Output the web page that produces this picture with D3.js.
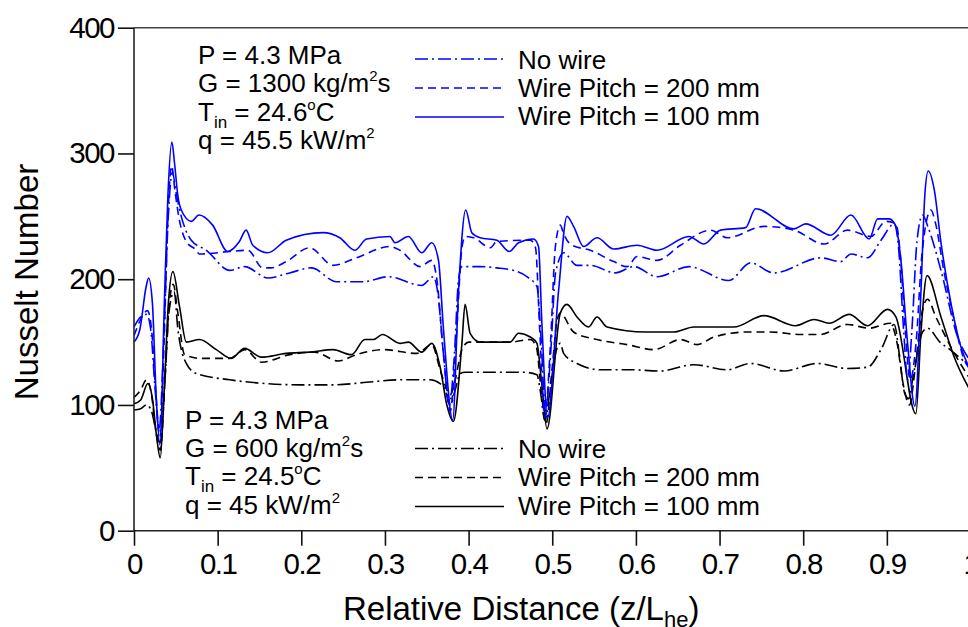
<!DOCTYPE html>
<html>
<head>
<meta charset="utf-8">
<script src="https://cdn.jsdelivr.net/npm/d3@7"></script>
<style>
  body { margin: 0; background: #fff; }
  svg { display: block; font-family: "Liberation Sans", Arial, sans-serif; }
</style>
</head>
<body>
<svg id="svg" width="968" height="627"></svg>
<script>
// values: [z/L, Nusselt number]
var xTicks = [0, 0.1, 0.2, 0.3, 0.4, 0.5, 0.6, 0.7, 0.8, 0.9, 1];
var yTicks = [0, 100, 200, 300, 400];

// G = 1300 (blue)
var blueNoWire = [[0,162],[0.008,170],[0.015,172],[0.020,160],[0.025,115],[0.030,80],[0.036,160],[0.041,250],[0.046,285],[0.050,270],[0.0565,250],[0.0685,231],[0.0865,223],[0.1144,207],[0.1323,210],[0.160,201],[0.186,205],[0.212,209],[0.242,198],[0.274,198],[0.304,202],[0.344,195],[0.358,202],[0.363,190],[0.370,140],[0.377,100],[0.383,140],[0.388,200],[0.392,210],[0.4138,210],[0.4338,209],[0.4537,207],[0.4697,202],[0.4817,194],[0.486,160],[0.492,95],[0.498,140],[0.504,205],[0.5136,221],[0.5296,211],[0.5455,211],[0.5754,205],[0.5974,210],[0.6254,202],[0.6633,210],[0.7112,199],[0.7371,213],[0.765,205],[0.821,217],[0.845,214],[0.857,220],[0.877,217],[0.893,231],[0.909,244],[0.914,225],[0.920,160],[0.925,120],[0.930,160],[0.936,230],[0.9427,251],[0.950,240],[0.9647,207],[0.9846,154],[1.0,135]];
var bluePitch200 = [[0,155],[0.008,168],[0.016,175],[0.021,160],[0.026,110],[0.031,75],[0.036,150],[0.040,240],[0.045,290],[0.049,270],[0.054,248],[0.0625,230],[0.0745,223],[0.078,220],[0.1144,222],[0.136,223],[0.154,209],[0.164,209],[0.182,214],[0.210,225],[0.238,211],[0.266,217],[0.306,226],[0.318,223],[0.342,210],[0.356,215],[0.362,200],[0.370,140],[0.378,95],[0.385,150],[0.392,225],[0.396,234],[0.406,233],[0.426,225],[0.4338,230],[0.474,231],[0.480,225],[0.485,160],[0.491,90],[0.498,150],[0.5036,225],[0.5096,243],[0.5136,236],[0.5236,227],[0.5455,223],[0.5734,214],[0.5894,210],[0.6014,218],[0.6254,215],[0.6533,227],[0.6892,239],[0.7092,233],[0.753,242],[0.789,239],[0.825,228],[0.853,239],[0.881,234],[0.899,246],[0.911,244],[0.916,220],[0.922,160],[0.928,120],[0.935,150],[0.942,220],[0.9527,255],[0.958,245],[0.9686,205],[0.978,175],[0.9925,136],[1.0,128]];
var bluePitch100 = [[0,150],[0.007,160],[0.0145,194],[0.0175,201],[0.022,181],[0.0265,107],[0.031,68],[0.0365,186],[0.0405,266],[0.0453,309],[0.0485,292],[0.0525,266],[0.0565,255],[0.0685,246],[0.0776,251],[0.094,243],[0.112,222],[0.126,230],[0.134,239],[0.142,227],[0.160,221],[0.182,231],[0.226,237],[0.246,233],[0.264,223],[0.278,232],[0.306,234],[0.312,229],[0.328,234],[0.344,221],[0.356,229],[0.364,215],[0.370,160],[0.381,88],[0.388,191],[0.3966,255],[0.4038,237],[0.4138,233],[0.4338,231],[0.4485,222],[0.4597,229],[0.4776,232],[0.4836,226],[0.4876,165],[0.4944,90],[0.5076,191],[0.5176,250],[0.5255,242],[0.5375,226],[0.5535,233],[0.5734,224],[0.6014,227],[0.6254,223],[0.6633,234],[0.6812,228],[0.7012,239],[0.7311,241],[0.7431,256],[0.789,240],[0.803,244],[0.833,235],[0.857,251],[0.879,232],[0.889,248],[0.9028,248],[0.9108,242],[0.9168,215],[0.9248,149],[0.9335,99],[0.9407,189],[0.9455,268],[0.9495,286],[0.9567,271],[0.9647,229],[0.9766,181],[0.9886,146],[1.0,128]];

// G = 600 (black)
var blackNoWire = [[0,96],[0.008,97],[0.015,100],[0.021,95],[0.026,80],[0.031,70],[0.037,120],[0.042,175],[0.048,190],[0.0525,160],[0.0625,133],[0.0745,125],[0.1144,120],[0.158,117],[0.198,116],[0.238,116],[0.278,118],[0.318,120],[0.354,120],[0.366,117],[0.372,112],[0.378,100],[0.384,112],[0.390,125],[0.396,126],[0.405,126],[0.4657,126],[0.4817,124],[0.486,110],[0.491,88],[0.498,115],[0.5036,140],[0.5096,149],[0.5136,141],[0.5296,133],[0.5575,128],[0.593,128],[0.6293,127],[0.6692,132],[0.7092,128],[0.7371,133],[0.777,127],[0.817,133],[0.853,129],[0.877,130],[0.893,144],[0.9088,164],[0.915,140],[0.921,110],[0.926,105],[0.932,125],[0.9427,158],[0.9486,161],[0.9635,150],[0.9755,144],[1.0,130]];
var blackPitch200 = [[0,106],[0.008,112],[0.015,120],[0.021,108],[0.026,80],[0.0315,64],[0.037,120],[0.042,180],[0.047,196],[0.052,175],[0.0605,140],[0.0805,137],[0.1144,137],[0.1323,144],[0.1523,134],[0.186,140],[0.216,142],[0.244,135],[0.266,140],[0.298,144],[0.338,141],[0.356,148],[0.366,128],[0.374,112],[0.378,108],[0.384,120],[0.392,144],[0.400,150],[0.4138,150],[0.4497,150],[0.4737,152],[0.481,146],[0.487,110],[0.4925,85],[0.500,130],[0.506,168],[0.5096,173],[0.5255,158],[0.5535,152],[0.5894,148],[0.6214,144],[0.6533,152],[0.6733,148],[0.6932,154],[0.733,158],[0.761,158],[0.797,156],[0.820,156],[0.853,164],[0.879,161],[0.904,165],[0.912,150],[0.920,115],[0.927,100],[0.934,130],[0.941,170],[0.9487,184],[0.9586,170],[0.9766,146],[1.0,120]];
var blackPitch100 = [[0,101],[0.008,104],[0.0166,117],[0.022,105],[0.027,75],[0.0314,58],[0.036,110],[0.041,180],[0.0465,206],[0.0545,178],[0.0625,150],[0.0784,152],[0.0984,144],[0.116,137],[0.1323,145],[0.1523,138],[0.182,141],[0.210,142],[0.238,144],[0.260,140],[0.276,152],[0.286,152],[0.297,156],[0.318,149],[0.328,150],[0.344,142],[0.356,149],[0.366,130],[0.374,100],[0.3818,87],[0.392,149],[0.3958,180],[0.4018,157],[0.4138,150],[0.4497,150],[0.4597,157],[0.4737,154],[0.4817,149],[0.487,120],[0.4937,81],[0.5096,173],[0.5176,180],[0.5296,170],[0.5435,162],[0.5535,170],[0.5655,162],[0.6114,158],[0.6453,158],[0.6692,162],[0.7171,162],[0.753,171],[0.791,163],[0.813,168],[0.831,165],[0.855,172],[0.877,163],[0.9008,176],[0.9108,170],[0.9347,93],[0.941,160],[0.948,203],[0.9647,170],[0.9806,138],[1.0,111]];

var legendLabels = ["No wire", "Wire Pitch = 200 mm", "Wire Pitch = 100 mm"];

//////////////////////////////////////////////////////////////////////////////

var svg = d3.select("#svg");
var blue = "#0000ff", black = "#000";
var dashDot = "13,4,2,4", dashed = "8,5", solid = null;

var x = d3.scaleLinear().domain([0, 1]).range([134, 970.5]);
var y = d3.scaleLinear().domain([0, 400]).range([530.7, 27.7]);

svg.append("defs").append("clipPath").attr("id", "clip")
    .append("rect").attr("x", x(0)).attr("y", y(400)).attr("width", x(1) - x(0)).attr("height", y(0) - y(400));

var line = d3.line()
    .x(function(d) { return x(d[0]); })
    .y(function(d) { return y(d[1]); })
    .curve(d3.curveMonotoneX);

var series = [
    { data: blackNoWire, color: black, dash: dashDot },
    { data: blackPitch200, color: black, dash: dashed },
    { data: blackPitch100, color: black, dash: solid },
    { data: blueNoWire, color: blue, dash: dashDot },
    { data: bluePitch200, color: blue, dash: dashed },
    { data: bluePitch100, color: blue, dash: solid }
];

svg.append("g").attr("clip-path", "url(#clip)")
    .selectAll("path").data(series).enter().append("path")
    .attr("d", function(s) { return line(s.data); })
    .attr("fill", "none")
    .attr("stroke", function(s) { return s.color; })
    .attr("stroke-width", 1.6)
    .attr("stroke-dasharray", function(s) { return s.dash; });

// axes
var xAxis = d3.axisBottom(x).tickValues(xTicks).tickSize(15).tickPadding(8)
    .tickFormat(function(d) { return d === 0 || d === 1 ? d : d3.format(".1f")(d); });
var gx = svg.append("g").attr("transform", "translate(0," + y(0) + ")").call(xAxis);
var yAxis = d3.axisLeft(y).tickValues(yTicks).tickSize(16).tickPadding(4);
var gy = svg.append("g").attr("transform", "translate(" + x(0) + ",0)").call(yAxis);

[gx, gy].forEach(function(g) {
    g.select(".domain").attr("stroke", "#222").attr("stroke-width", 1.6);
    g.selectAll(".tick line").attr("stroke", "#111").attr("stroke-width", 1.6);
    g.selectAll(".tick text").attr("fill", "#000").attr("font-size", 29.5)
        .attr("font-family", "'Liberation Sans', Arial, sans-serif")
        .style("letter-spacing", "-1.5px");
});
gy.select(".domain").attr("d", "M0," + y(0) + "V" + y(400));
gx.select(".domain").attr("d", "M" + x(0) + ",0H" + x(1));
gx.selectAll(".tick text").attr("dy", "0.7em");

svg.append("line").attr("x1", x(0)).attr("x2", x(1)).attr("y1", y(400)).attr("y2", y(400))
    .attr("stroke", "#444").attr("stroke-width", 1.6);

// axis titles
svg.append("text").attr("transform", "translate(38,282) rotate(-90)")
    .attr("text-anchor", "middle").attr("font-size", 33).text("Nusselt Number");

var xt = svg.append("text").attr("x", 343).attr("y", 620).attr("font-size", 33);
xt.append("tspan").text("Relative Distance (z/L");
xt.append("tspan").attr("font-size", 22).attr("dy", 7).text("he");
xt.append("tspan").attr("dy", -7).text(")");

// condition blocks
function conditions(x0, y0, G, T, q) {
    var fs = 26, step = 28.4;
    var g = svg.append("g").attr("font-size", fs);
    g.append("text").attr("x", x0).attr("y", y0).text("P = 4.3 MPa");
    var t2 = g.append("text").attr("x", x0).attr("y", y0 + step);
    t2.append("tspan").text("G = " + G + " kg/m");
    t2.append("tspan").attr("font-size", 15).attr("dy", -11).text("2");
    t2.append("tspan").attr("dy", 11).text("s");
    var t3 = g.append("text").attr("x", x0).attr("y", y0 + 2 * step);
    t3.append("tspan").text("T");
    t3.append("tspan").attr("font-size", 17).attr("dy", 7).text("in");
    t3.append("tspan").attr("dy", -7).text(" = " + T);
    t3.append("tspan").attr("font-size", 15).attr("dy", -11).text("o");
    t3.append("tspan").attr("dy", 11).text("C");
    var t4 = g.append("text").attr("x", x0).attr("y", y0 + 3 * step);
    t4.append("tspan").text("q = " + q + " kW/m");
    t4.append("tspan").attr("font-size", 15).attr("dy", -11).text("2");
}
conditions(198, 64, "1300", "24.6", "45.5");
conditions(185, 428.5, "600", "24.5", "45");

function legend(color, lineY, textY) {
    var dashes = [dashDot, dashed, solid];
    var g = svg.append("g");
    legendLabels.forEach(function(lbl, i) {
        g.append("line").attr("x1", 415).attr("x2", 504)
            .attr("y1", lineY + i * 29).attr("y2", lineY + i * 29)
            .attr("stroke", color).attr("stroke-width", 1.6)
            .attr("stroke-dasharray", dashes[i]);
        g.append("text").attr("x", 518).attr("y", textY + i * 28.4)
            .attr("font-size", 26).text(lbl);
    });
}
legend(blue, 59, 68.5);
legend(black, 448.5, 458);
</script>
</body>
</html>
